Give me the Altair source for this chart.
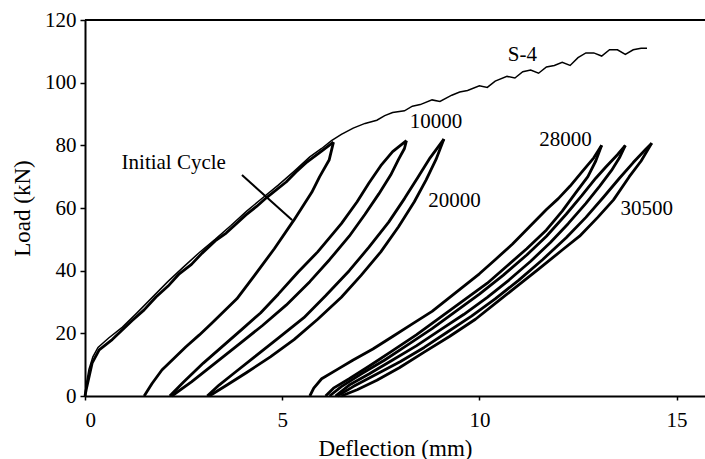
import altair as alt
import pandas as pd

FONT = "Liberation Serif"

# ---- data ----
s4_x = [0, 0.03, 0.1, 0.2, 0.33, 0.6, 0.95, 1.3, 1.7, 2.1, 2.5, 2.9, 3.3, 3.7, 4.1, 4.5, 4.9, 5.3, 5.7, 6.0,
        6.25, 6.5, 6.8, 7.1, 7.4, 7.6, 7.8, 8.1, 8.3, 8.5, 8.8, 9.0, 9.3, 9.5, 9.7, 10.0, 10.2, 10.4, 10.7,
        10.9, 11.1, 11.3, 11.5, 11.7, 11.9, 12.1, 12.3, 12.5, 12.7, 12.9, 13.1, 13.3, 13.5, 13.7, 13.9, 14.1, 14.25]
s4_y = [0, 3.5, 8.5, 12.5, 15.5, 18.5, 22, 26.3, 31.4, 36.5, 41.2, 45.8, 50, 54.4, 59, 63.2, 67.3, 71.7, 76.3, 79,
        81.5, 83.5, 85.5, 87, 88, 89.5, 90.5, 91, 92.5, 93, 94.5, 94, 96, 97, 97.5, 99, 98.5, 100.5, 102,
        101.5, 103.5, 104, 103, 105, 105.5, 106.5, 105.5, 108, 109.5, 109.5, 108.5, 110.5, 110.5, 109, 110.5, 111, 111]

init_load_x = [0, 0.03, 0.18, 0.36, 0.69, 1.19, 1.5, 1.8, 2.1, 2.39, 2.7, 2.97, 3.3, 3.58, 4.08, 4.35, 4.62, 5.1, 5.35, 5.6, 5.94, 6.3]
init_load_y = [0, 2, 10.5, 14.7, 18, 24, 27.5, 31.6, 35, 39, 42, 45.6, 49.5, 52, 57.8, 60.5, 63.5, 68.3, 71.5, 74.4, 77.6, 81]
init_unload_x = [6.3, 6.19, 5.95, 5.75, 5.3, 4.8, 4.3, 3.85, 3.22, 2.9, 2.56, 1.95, 1.7, 1.5]
init_unload_y = [81, 75.3, 70, 65, 56.2, 47, 38.5, 31, 23.3, 19.5, 15.7, 8.3, 4, 0]

c10k_a_x = [2.15, 2.5, 3.0, 3.5, 4.0, 4.45, 4.9, 5.4, 5.9, 6.5, 6.9, 7.2, 7.5, 7.8, 8.15]
c10k_a_y = [0, 4.5, 10.5, 16, 21.5, 26.5, 32.5, 39.5, 46, 55, 62, 68, 73.5, 78, 81.5]
c10k_b_x = [8.15, 8.1, 7.95, 7.75, 7.45, 7.1, 6.7, 6.2, 5.7, 5.1, 4.5, 3.9, 3.3, 2.7, 2.2]
c10k_b_y = [81.5, 79, 75.5, 70.5, 64.5, 58, 51, 43.5, 36.5, 29, 22.5, 16.5, 10.5, 4.5, 0]

c20k_a_x = [3.1, 3.4, 3.8, 4.3, 4.9, 5.55, 6.1, 6.7, 7.2, 7.7, 8.1, 8.45, 8.75, 9.1]
c20k_a_y = [0, 3.5, 7.5, 12.5, 18.5, 25, 32, 40, 47.5, 55.5, 63, 70, 76, 82]
c20k_b_x = [9.1, 8.9, 8.65, 8.35, 7.95, 7.5, 7.0, 6.5, 5.9, 5.3, 4.7, 4.1, 3.6, 3.15]
c20k_b_y = [82, 75.5, 69, 62, 54, 46, 38.5, 31.5, 24.5, 18, 12.5, 7.5, 3.5, 0]

c28k_a_x = [5.7, 5.8, 6.0, 6.4, 6.8, 7.3, 7.8, 8.3, 8.8, 9.2, 9.6, 10.0, 10.4, 10.84, 11.27, 11.7, 12.0, 12.3, 12.6, 12.9, 13.1]
c28k_a_y = [0, 2.5, 5.5, 8.5, 11.5, 15, 19, 23, 27, 31, 35, 39, 43.5, 48.5, 54, 59.5, 63, 67, 71.5, 76, 80]
c28k_b_x = [13.1, 12.95, 12.75, 12.45, 12.1, 11.7, 11.2, 10.7, 10.2, 9.6, 9.0, 8.4, 7.8, 7.2, 6.7, 6.3, 6.1]
c28k_b_y = [80, 75, 70, 65, 59, 53, 47, 41.5, 36, 30.5, 25, 19.5, 14.5, 9.5, 5.5, 2.5, 0]

c29k_a_x = [6.2, 6.5, 7.0, 7.6, 8.2, 8.8, 9.4, 10.0, 10.6, 11.2, 11.7, 12.2, 12.6, 12.95, 13.2, 13.5, 13.7]
c29k_a_y = [0, 3, 7, 11.5, 16.5, 21.5, 27, 32.5, 38.5, 45, 51, 58, 64, 69.5, 73, 77, 80]
c29k_b_x = [13.7, 13.55, 13.35, 13.05, 12.7, 12.25, 11.8, 11.3, 10.75, 10.2, 9.6, 9.0, 8.4, 7.8, 7.2, 6.7, 6.35]
c29k_b_y = [80, 76, 72, 67, 61.5, 55, 49, 43, 37, 31.5, 26, 21, 16, 11.5, 7, 3.5, 0]

c30k_a_x = [6.4, 6.8, 7.4, 8.0, 8.6, 9.2, 9.8, 10.4, 11.0, 11.6, 12.2, 12.7, 13.15, 13.55, 13.9, 14.2, 14.37]
c30k_a_y = [0, 3, 7, 11, 15.5, 20.5, 25.5, 31, 37, 43.5, 50.5, 57, 63.5, 69.5, 74.5, 78.5, 80.7]
c30k_b_x = [14.37, 14.1, 13.8, 13.4, 13.0, 12.54, 12.1, 11.5, 10.9, 10.5, 9.9, 9.24, 8.6, 7.97, 7.4, 6.9, 6.5]
c30k_b_y = [80.7, 75, 70, 62.6, 57, 51, 46.6, 40.5, 34.5, 30.5, 24.5, 19, 14, 9, 5, 2, 0]

label_text = ["S-4", "10000", "20000", "28000", "30500", "Initial Cycle"]
label_x = [11.09, 8.9, 9.37, 12.18, 14.24, 2.25]
label_y = [108.8, 87.5, 62.2, 81.7, 59.7, 74.5]

pointer_x = [3.98]
pointer_y = [70.5]
pointer_x2 = [5.25]
pointer_y2 = [56.2]

y_ticks = [0, 20, 40, 60, 80, 100, 120]
x_ticks = [0, 5, 10, 15]

# ---- build tables ----
thick_series = {
    "init_load": (init_load_x, init_load_y),
    "init_unload": (init_unload_x, init_unload_y),
    "c10k_a": (c10k_a_x, c10k_a_y),
    "c10k_b": (c10k_b_x, c10k_b_y),
    "c20k_a": (c20k_a_x, c20k_a_y),
    "c20k_b": (c20k_b_x, c20k_b_y),
    "c28k_a": (c28k_a_x, c28k_a_y),
    "c28k_b": (c28k_b_x, c28k_b_y),
    "c29k_a": (c29k_a_x, c29k_a_y),
    "c29k_b": (c29k_b_x, c29k_b_y),
    "c30k_a": (c30k_a_x, c30k_a_y),
    "c30k_b": (c30k_b_x, c30k_b_y),
}
rows = []
for name, (xs, ys) in thick_series.items():
    for i, (a, b) in enumerate(zip(xs, ys)):
        rows.append({"series": name, "order": i, "x": a, "y": b})
thick_df = pd.DataFrame(rows)
s4_df = pd.DataFrame({"x": s4_x, "y": s4_y, "order": list(range(len(s4_x)))})
label_df = pd.DataFrame({"text": label_text, "x": label_x, "y": label_y})
pointer_df = pd.DataFrame({"x": pointer_x, "y": pointer_y, "x2": pointer_x2, "y2": pointer_y2})
top_df = pd.DataFrame({"y": [120]})

xscale = alt.Scale(domain=[0, 15.72], nice=False, zero=False)
yscale = alt.Scale(domain=[0, 120], nice=False)

xaxis = alt.Axis(values=x_ticks, title="Deflection (mm)", grid=False, tickSize=4,
                 labelPadding=9, titlePadding=7, format="d")
yaxis = alt.Axis(values=y_ticks, title="Load (kN)", grid=False, tickSize=5,
                 labelPadding=4, titlePadding=10, format="d")

s4 = alt.Chart(s4_df).mark_line(color="black", strokeWidth=1.5).encode(
    x=alt.X("x:Q", scale=xscale, axis=xaxis),
    y=alt.Y("y:Q", scale=yscale, axis=yaxis),
    order="order:Q",
)

thick = alt.Chart(thick_df).mark_line(color="black", strokeWidth=2.8, strokeJoin="round").encode(
    x=alt.X("x:Q", scale=xscale),
    y=alt.Y("y:Q", scale=yscale),
    detail="series:N",
    order="order:Q",
)

pointer = alt.Chart(pointer_df).mark_rule(color="black", strokeWidth=2).encode(
    x="x:Q", y="y:Q", x2="x2:Q", y2="y2:Q"
)

top = alt.Chart(top_df).mark_rule(color="black", strokeWidth=2).encode(y=alt.Y("y:Q", scale=yscale))

labels = alt.Chart(label_df).mark_text(font=FONT, fontSize=21, color="black").encode(
    x="x:Q", y="y:Q", text="text:N"
)

chart = alt.layer(s4, thick, pointer, top, labels).properties(
    width=620, height=376,
    padding={"left": 85, "top": 20, "right": 0, "bottom": 63},
    autosize=alt.AutoSizeParams(type="none"),
    background="white",
).configure_view(stroke=None).configure_axis(
    labelFont=FONT, titleFont=FONT, labelFontSize=21, titleFontSize=23,
    labelColor="black", titleColor="black", domainColor="black", tickColor="black",
    domainWidth=2, tickWidth=1.5, titleFontWeight="normal",
)

chart.save("out.html", embed_options={"renderer": "svg", "actions": False})
